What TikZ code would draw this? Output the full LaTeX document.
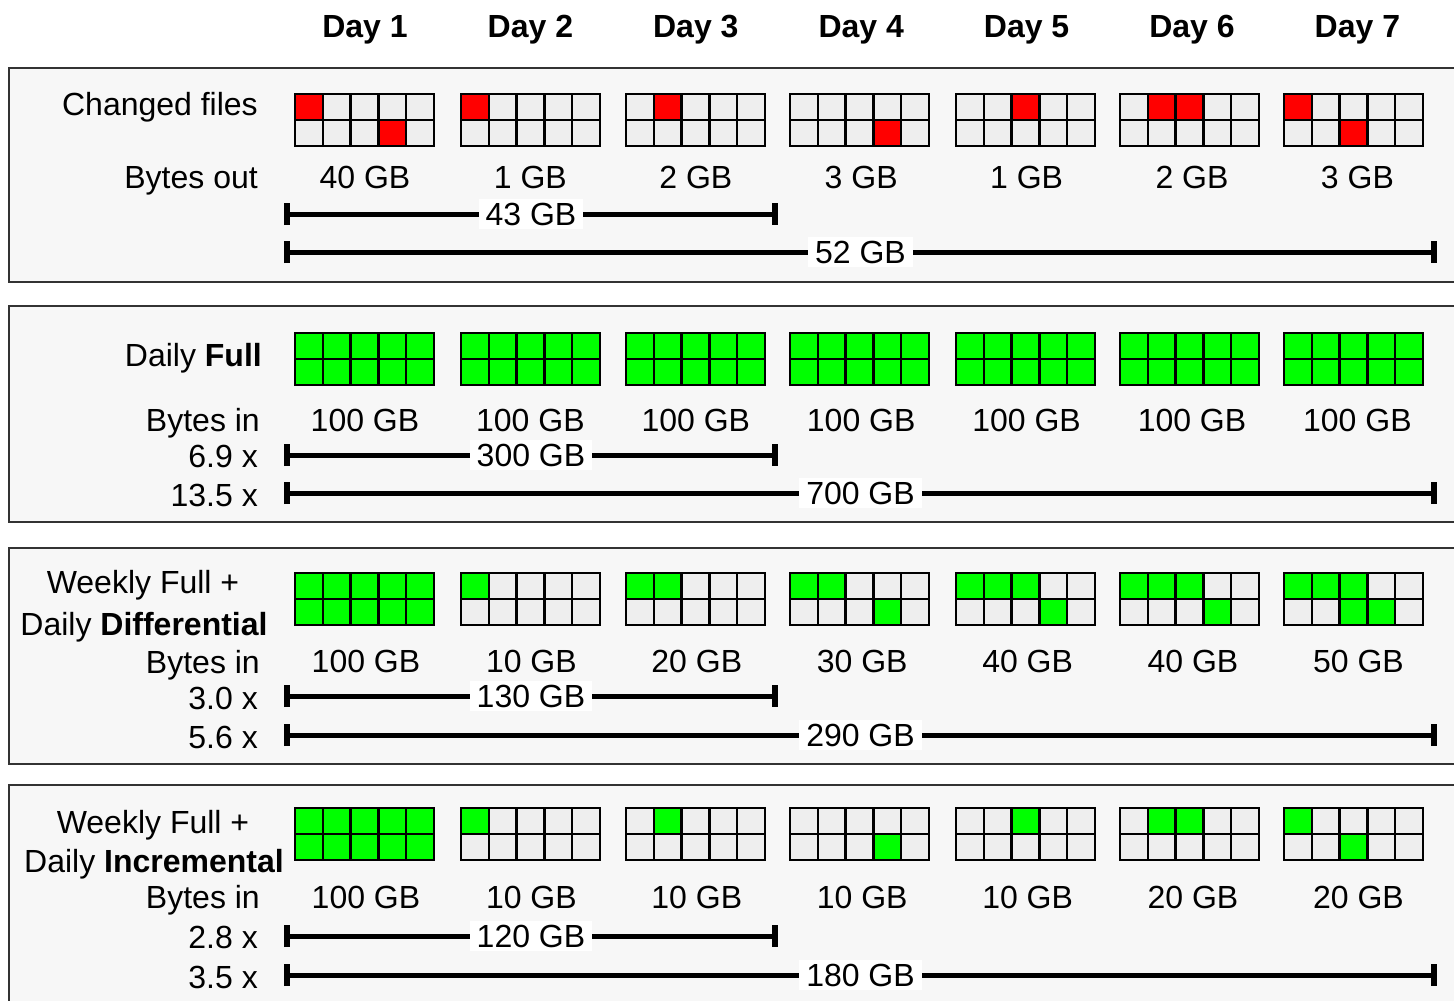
\documentclass[tikz,border=0pt]{standalone}
\usepackage{fontspec}
\setmainfont{Liberation Sans}
\usetikzlibrary{arrows.meta}
\definecolor{panelbg}{HTML}{F7F7F7}
\definecolor{cellbg}{HTML}{EEEEEE}
\definecolor{redc}{HTML}{FF0000}
\definecolor{greenc}{HTML}{00FF00}
\definecolor{bordc}{HTML}{333333}
\tikzset{
  txt/.style={font=\fontsize{32}{38}\selectfont, inner sep=0pt, anchor=base},
  rtxt/.style={txt, anchor=base east},
  daytxt/.style={txt, font=\fontsize{32}{38}\selectfont\bfseries},
  panelbox/.style={draw=bordc, line width=2pt, fill=panelbg},
  gridline/.style={draw=black, line width=2.3pt},
  barline/.style={line width=5pt, {Bar[width=22pt,line width=6pt]}-{Bar[width=22pt,line width=6pt]}},
  barlabel/.style={font=\fontsize{32}{38}\selectfont, fill=white, inner xsep=7pt, inner ysep=3pt, text height=23pt, text depth=1pt},
}
% #1 left x of grid, #2 top y, #3 colour, #4 list of row/col cells
\newcommand\cellgrid[4]{%
  \fill[cellbg] (#1,#2) rectangle ++(139,52);
  \foreach \r/\c in {#4}{\fill[#3] ({#1+(\c-1)*27.8},{#2+(\r-1)*26}) rectangle ++(27.8,26);}
  \foreach \k in {1,2,3,4}{\draw[gridline] ({#1+\k*27.8},#2) -- ++(0,52);}
  \draw[gridline] (#1,{#2+26}) -- ++(139,0);
  \draw[gridline] (#1,#2) rectangle ++(139,52);
}
\begin{document}
\begin{tikzpicture}[x=1pt,y=-1pt]
\useasboundingbox[fill=white] (0,0) rectangle (1454,1001);
% panels
\draw[panelbox] (9,68) rectangle (1475,282);
\draw[panelbox] (9,306) rectangle (1475,522);
\draw[panelbox] (9,548) rectangle (1475,764);
\draw[panelbox] (9,785) rectangle (1475,1015);
% day headers
\foreach \d in {1,...,7}{\node[daytxt] (day\d) at ({365+165.4*(\d-1)},37) {Day \d};}

% ---------- panel 1 ----------
\node[rtxt] (chg) at (258,115) {Changed files};
\node[rtxt] (bout) at (258,188) {Bytes out};
\cellgrid{295}{94}{redc}{1/1,2/4}
\cellgrid{461}{94}{redc}{1/1}
\cellgrid{626}{94}{redc}{1/2}
\cellgrid{790}{94}{redc}{2/4}
\cellgrid{956}{94}{redc}{1/3}
\cellgrid{1120}{94}{redc}{1/2,1/3}
\cellgrid{1284}{94}{redc}{1/1,2/3}
\foreach \v [count=\i from 0] in {40,1,2,3,1,2,3}{\node[txt] (po\i) at ({365+165.4*\i},188) {\v\ GB};}
\coordinate (a1s) at (284,214); \coordinate (a1e) at (778,214);
\coordinate (b1s) at (284,252); \coordinate (b1e) at (1437,252);
\draw[barline] (a1s) -- node[barlabel] (l43) {43 GB} (a1e);
\draw[barline] (b1s) -- node[barlabel] (l52) {52 GB} (b1e);

% ---------- panel 2 ----------
\node[rtxt] (dfull) at (262,366) {Daily \textbf{Full}};
\node[rtxt] (bin2) at (260,431) {Bytes in};
\node[rtxt] (x69) at (258,467) {6.9 x};
\node[rtxt] (x135) at (258,506) {13.5 x};
\foreach \gx in {295,461,626,790,956,1120,1284}{\cellgrid{\gx}{333}{greenc}{1/1,1/2,1/3,1/4,1/5,2/1,2/2,2/3,2/4,2/5}}
\foreach \i in {0,...,6}{\node[txt] (pf\i) at ({365+165.4*\i},431) {100 GB};}
\coordinate (a2s) at (284,455); \coordinate (a2e) at (778,455);
\coordinate (b2s) at (284,493); \coordinate (b2e) at (1437,493);
\draw[barline] (a2s) -- node[barlabel] (l300) {300 GB} (a2e);
\draw[barline] (b2s) -- node[barlabel] (l700) {700 GB} (b2e);

% ---------- panel 3 ----------
\node[txt] (wf3) at (143,593) {Weekly Full +};
\node[txt] (ddiff) at (144,635) {Daily \textbf{Differential}};
\node[rtxt] (bin3) at (260,673) {Bytes in};
\node[rtxt] (x30) at (258,709) {3.0 x};
\node[rtxt] (x56) at (258,748) {5.6 x};
\cellgrid{295}{573}{greenc}{1/1,1/2,1/3,1/4,1/5,2/1,2/2,2/3,2/4,2/5}
\cellgrid{461}{573}{greenc}{1/1}
\cellgrid{626}{573}{greenc}{1/1,1/2}
\cellgrid{790}{573}{greenc}{1/1,1/2,2/4}
\cellgrid{956}{573}{greenc}{1/1,1/2,1/3,2/4}
\cellgrid{1120}{573}{greenc}{1/1,1/2,1/3,2/4}
\cellgrid{1284}{573}{greenc}{1/1,1/2,1/3,2/3,2/4}
\foreach \v [count=\i from 0] in {100,10,20,30,40,40,50}{\node[txt] (pd\i) at ({366+165.4*\i},672) {\v\ GB};}
\coordinate (a3s) at (284,696); \coordinate (a3e) at (778,696);
\coordinate (b3s) at (284,735); \coordinate (b3e) at (1437,735);
\draw[barline] (a3s) -- node[barlabel] (l130) {130 GB} (a3e);
\draw[barline] (b3s) -- node[barlabel] (l290) {290 GB} (b3e);

% ---------- panel 4 ----------
\node[txt] (wf4) at (153,833) {Weekly Full +};
\node[txt] (dinc) at (154,872) {Daily \textbf{Incremental}};
\node[rtxt] (bin4) at (260,908) {Bytes in};
\node[rtxt] (x28) at (258,948) {2.8 x};
\node[rtxt] (x35) at (258,988) {3.5 x};
\cellgrid{295}{808}{greenc}{1/1,1/2,1/3,1/4,1/5,2/1,2/2,2/3,2/4,2/5}
\cellgrid{461}{808}{greenc}{1/1}
\cellgrid{626}{808}{greenc}{1/2}
\cellgrid{790}{808}{greenc}{2/4}
\cellgrid{956}{808}{greenc}{1/3}
\cellgrid{1120}{808}{greenc}{1/2,1/3}
\cellgrid{1284}{808}{greenc}{1/1,2/3}
\foreach \v [count=\i from 0] in {100,10,10,10,10,20,20}{\node[txt] (pi\i) at ({366+165.4*\i},908) {\v\ GB};}
\coordinate (a4s) at (284,936); \coordinate (a4e) at (778,936);
\coordinate (b4s) at (284,975); \coordinate (b4e) at (1437,975);
\draw[barline] (a4s) -- node[barlabel] (l120) {120 GB} (a4e);
\draw[barline] (b4s) -- node[barlabel] (l180) {180 GB} (b4e);
\end{tikzpicture}
\end{document}
